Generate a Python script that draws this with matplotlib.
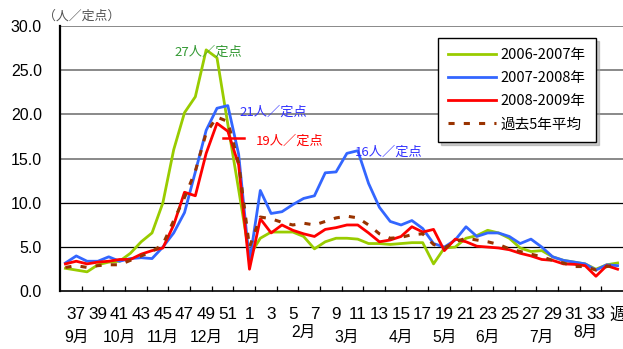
import matplotlib
matplotlib.use("Agg")
import matplotlib.pyplot as plt
import matplotlib.transforms as mtransforms
from matplotlib.font_manager import FontProperties

plt.rcParams['font.family'] = ['Liberation Sans', 'Noto Sans CJK JP']

# season weeks: 36..52 then 1..35
weeks = list(range(36, 53)) + list(range(1, 36))

season_0607 = [2.6, 2.4, 2.2, 3.0, 3.3, 3.4, 4.3, 5.6, 6.6, 10.0,
               16.0, 20.2, 22.0, 27.3, 26.4, 18.9, 11.5, 4.0, 6.0, 6.7,
               6.7, 6.7, 6.2, 4.8, 5.6, 6.0, 6.0, 5.9, 5.4, 5.4,
               5.3, 5.4, 5.5, 5.5, 3.1, 4.9, 5.0, 6.0, 6.3, 6.9,
               6.6, 6.0, 4.9, 4.5, 4.6, 3.9, 3.5, 3.3, 3.1, 2.5,
               3.0, 3.2]
season_0708 = [3.2, 4.0, 3.4, 3.4, 3.9, 3.4, 3.7, 3.8, 3.7, 5.0,
               6.6, 8.9, 13.5, 18.2, 20.7, 21.0, 15.5, 3.3, 11.4, 8.8,
               9.0, 9.8, 10.5, 10.8, 13.4, 13.5, 15.6, 15.9, 12.2, 9.5,
               7.9, 7.5, 8.0, 7.1, 5.4, 5.0, 5.8, 7.3, 6.2, 6.6,
               6.6, 6.2, 5.4, 5.9, 5.0, 3.9, 3.5, 3.3, 3.1, 2.4,
               3.0, 2.9]
season_0809 = [3.1, 3.4, 3.1, 3.3, 3.4, 3.6, 3.6, 4.2, 4.6, 4.9,
               7.5, 11.2, 10.8, 15.6, 19.0, 18.1, 14.3, 2.5, 8.2, 6.6,
               7.5, 6.9, 6.5, 6.2, 7.0, 7.2, 7.5, 7.5, 6.6, 5.6,
               5.8, 6.2, 7.3, 6.7, 7.0, 4.6, 5.9, 5.6, 5.1, 5.0,
               4.9, 4.7, 4.3, 4.0, 3.6, 3.5, 3.1, 3.05, 2.9, 1.7,
               2.9, 2.5]
avg_5yr = [2.7, 2.9, 2.7, 2.9, 3.0, 3.0, 3.5, 4.0, 4.5, 5.3,
           8.0, 10.6, 13.6, 17.9, 19.7, 19.2, 14.5, 5.0, 8.4, 8.2,
           7.8, 7.5, 7.7, 7.5, 7.9, 8.3, 8.5, 8.3, 7.5, 6.5,
           6.0, 6.1, 6.4, 6.5, 5.3, 4.9, 5.6, 6.0, 5.8, 5.6,
           5.3, 4.8, 4.5, 4.2, 3.9, 3.5, 3.2, 2.8, 2.8, 2.4,
           2.8, 3.0]

month_labels = ['9月', '10月', '11月', '12月', '1月', '2月',
                '3月', '4月', '5月', '6月', '7月', '8月']
month_weeks = [37, 41, 45, 49, 1, 6, 10, 15, 19, 23, 28, 32]
raised_months = ['2月', '8月']

peak_notes = [  # (text, x position in week slots, value, color)
    ('27人／定点', 10.1, 27.0, '#339933'),
    ('21人／定点', 16.05, 20.3, '#3333ff'),
    ('19人／定点', 17.6, 17.0, '#ff0000'),
    ('16人／定点', 26.75, 15.7, '#3333ff'),
]

cjk = 'Noto Sans CJK JP'
x = list(range(len(weeks)))

fig = plt.figure(figsize=(6.23, 3.49), dpi=100)
ax = fig.add_axes([60 / 623, 57.7 / 349, 563 / 623, 265.3 / 349])
ax.set_xlim(-0.5, len(weeks) - 0.5)
ax.set_ylim(0, 30)

for v in [5, 10]:
    ax.axhline(v, color='black', lw=0.9, zorder=1)
for v in [15, 20, 25, 30]:
    ax.axhline(v, color='#808080', lw=1.3, zorder=1)

ax.plot(x, season_0607, color='#99cc00', lw=2.0, label='2006-2007年', zorder=3)
ax.plot(x, season_0708, color='#3366ff', lw=2.0, label='2007-2008年', zorder=3)
ax.plot(x, season_0809, color='#ff0000', lw=2.0, label='2008-2009年', zorder=4)
ax.plot(x, avg_5yr, color='#993300', lw=2.2, ls=(0, (2, 3)),
        label='過去5年平均', zorder=5)

for s in ['top', 'right']:
    ax.spines[s].set_visible(False)
ax.spines['left'].set_linewidth(1.6)
ax.spines['bottom'].set_linewidth(1.2)

ax.set_yticks(range(0, 31, 5))
ax.set_yticklabels([f'{v:.1f}' for v in range(0, 31, 5)])
ax.tick_params(axis='y', length=0, pad=13, labelsize=11.5)

# tick marks between every second week, labels on odd weeks
ax.set_xticks([1.5 + 2 * k for k in range(25)])
ax.set_xticklabels([])
ax.tick_params(axis='x', which='major', direction='in', length=3.6, width=0.9)
lab_pos = [weeks.index(w) for w in weeks if w % 2 == 1 and w != 35]
lab_txt = [str(weeks[i]) for i in lab_pos]
lab_pos.append(weeks.index(35))
lab_txt.append('週')
ax.set_xticks(lab_pos, minor=True)
ax.set_xticklabels(lab_txt, minor=True)
ax.tick_params(axis='x', which='minor', length=0, pad=11.5, labelsize=12.3)

trans = mtransforms.blended_transform_factory(ax.transData, ax.transAxes)
for lab, w in zip(month_labels, month_weeks):
    yy = -0.155 if lab in raised_months else -0.172
    ax.text(weeks.index(w), yy, lab, transform=trans, ha='center',
            va='center', fontsize=11.3)

for txt, xpos, v, c in peak_notes:
    ax.text(xpos, v, txt, color=c, fontsize=9.5,
            family=[cjk], ha='left', va='center', zorder=6)
ax.plot([14.58, 16.5], [17.3, 17.3], color='#ff0000', lw=1.8, zorder=6)

fig.text(43.3 / 623, 1 - 15.7 / 349, '（人／定点）', fontsize=9.3,
         color='#555555', family=[cjk], va='center', ha='left')

leg = ax.legend(loc='upper left', bbox_to_anchor=(0.671, 0.954),
                borderaxespad=0, frameon=True, fancybox=False,
                edgecolor='black', framealpha=1, handlelength=3.3,
                handletextpad=0.3, labelspacing=0.62, borderpad=0.7,
                prop=FontProperties(family=[cjk], size=10.5),
                shadow={'color': '#999999'})
leg.get_frame().set_linewidth(1.0)
leg.set_zorder(10)

fig.savefig('out.png', dpi=100)
